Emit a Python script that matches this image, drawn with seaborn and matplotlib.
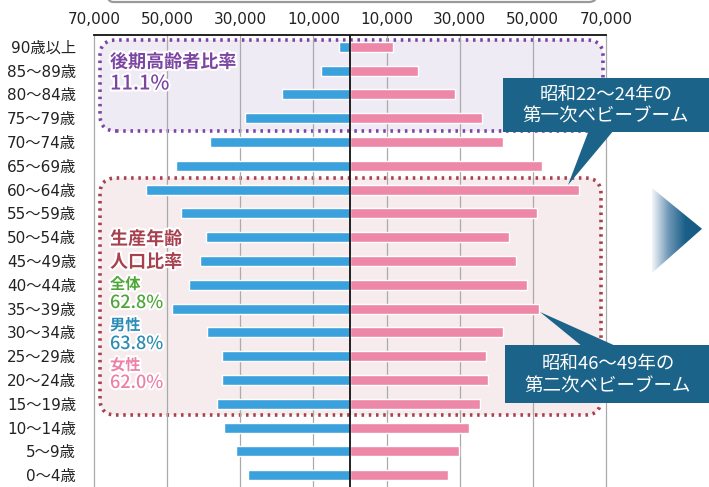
import numpy as np
import pandas as pd
import matplotlib
matplotlib.use('Agg')
import matplotlib.pyplot as plt
import matplotlib.patheffects as pe
from matplotlib.patches import FancyBboxPatch, Polygon, Rectangle
from matplotlib.transforms import IdentityTransform
from matplotlib.colors import LinearSegmentedColormap
import seaborn as sns

# age groups, top to bottom
ages = ['90歳以上', '85〜89歳', '80〜84歳', '75〜79歳', '70〜74歳', '65〜69歳',
        '60〜64歳', '55〜59歳', '50〜54歳', '45〜49歳', '40〜44歳', '35〜39歳',
        '30〜34歳', '25〜29歳', '20〜24歳', '15〜19歳', '10〜14歳', '5〜9歳', '0〜4歳']
male = [3000, 8000, 18500, 28800, 38200, 47700, 55900, 46200, 39300, 41100,
        44000, 48800, 39100, 34900, 35100, 36500, 34500, 31100, 27800]
female = [11800, 18500, 28700, 36100, 41800, 52400, 62700, 51000, 43400, 45400,
          48500, 51600, 41800, 37200, 37700, 35600, 32500, 29800, 26800]
tick_vals = [-70000, -50000, -30000, -10000, 10000, 30000, 50000, 70000]
grid_vals = [-50000, -30000, -10000, 10000, 30000, 50000]

df = pd.concat([
    pd.DataFrame({'年齢': ages, '性別': '男性', '人口': [-v for v in male]}),
    pd.DataFrame({'年齢': ages, '性別': '女性', '人口': female}),
])

sns.set_style('white')
plt.rcParams['font.family'] = ['Noto Sans CJK JP', 'DejaVu Sans']
tick_font = ['DejaVu Sans', 'Noto Sans CJK JP']

W, H = 709, 487
fig = plt.figure(figsize=(W / 100, H / 100), dpi=100)
ax = fig.add_axes([94 / W, 0, 512 / W, 452 / H])

sns.barplot(data=df, x='人口', y='年齢', hue='性別', order=ages, orient='h',
            palette={'男性': '#3ba1dc', '女性': '#ee88a8'}, dodge=False,
            width=0.42, errorbar=None, legend=False, saturation=1, ax=ax, zorder=2)

ax.set_xlim(-70000, 70000)
ax.set_ylim(len(ages) - 0.5, -0.5)
ax.set_xlabel('')
ax.set_ylabel('')
ax.xaxis.tick_top()
ax.set_xticks(tick_vals)
ax.set_xticklabels([f'{abs(v):,}' for v in tick_vals])
ax.tick_params(axis='x', length=0, pad=6, colors='#222222')
ax.tick_params(axis='y', length=0, pad=13, colors='#222222')
for lab in ax.get_xticklabels():
    lab.set_family(tick_font)
    lab.set_fontsize(11)
for lab in ax.get_yticklabels():
    lab.set_family(tick_font)
    lab.set_fontsize(11)
for v in grid_vals:
    ax.axvline(v, color='#aaaaaa', lw=0.9, zorder=1)
ax.axvline(0, color='#111111', lw=1.3, zorder=3)
ax.spines['bottom'].set_visible(False)
ax.spines['top'].set_color('#111111')
ax.spines['top'].set_linewidth(1.3)
for s in ['left', 'right']:
    ax.spines[s].set_color('#aaaaaa')
    ax.spines[s].set_linewidth(0.9)


def px(x, y):
    return (x, H - y)


ident = IdentityTransform()

# frame edge at the top
ax.add_patch(FancyBboxPatch(px(105, 2), 492, 30, boxstyle='round,pad=0,rounding_size=8',
                            fc='none', ec='#9a9a9a', lw=1.6, transform=ident, clip_on=False))

# highlighted groups
ax.add_patch(FancyBboxPatch(px(100, 131), 503, 91, boxstyle='round,pad=0,rounding_size=16',
                            fc='#eeebf5', ec='#7d44a6', lw=2.6, ls=(0, (0.7, 1.3)),
                            transform=ident, clip_on=False, zorder=0.5))
ax.add_patch(FancyBboxPatch(px(100, 415), 501, 237, boxstyle='round,pad=0,rounding_size=16',
                            fc='#f6eced', ec='#a8414f', lw=2.6, ls=(0, (0.7, 1.3)),
                            transform=ident, clip_on=False, zorder=0.5))

halo = [pe.withStroke(linewidth=3, foreground='white')]
labels = [
    ('後期高齢者比率', 110, 62, '#7b45a2', 13, 'bold'),
    ('11.1%', 110, 84, '#7b45a2', 14.5, 'medium'),
    ('生産年齢', 110, 239, '#a8414f', 13, 'bold'),
    ('人口比率', 110, 262, '#a8414f', 13, 'bold'),
    ('全体', 110, 284, '#4da738', 11, 'bold'),
    ('62.8%', 110, 303, '#4da738', 13, 'medium'),
    ('男性', 110, 325, '#2b8cb5', 11, 'bold'),
    ('63.8%', 110, 344, '#2b8cb5', 13, 'medium'),
    ('女性', 110, 365, '#ec80a7', 11, 'bold'),
    ('62.0%', 110, 383, '#ec80a7', 13, 'medium'),
]
for txt, x, y, c, fs, fw in labels:
    fig.text(*px(x, y), txt, transform=ident, color=c, fontsize=fs, fontweight=fw,
             ha='left', va='center', path_effects=halo, zorder=5)

# callouts
callout = '#1b6388'
ax.add_patch(Rectangle(px(503, 132), 206, 54, fc=callout, ec='none',
                       transform=ident, clip_on=False, zorder=4))
ax.add_patch(Polygon([px(589, 130), px(614, 130), px(568, 185)], closed=True, fc=callout,
                     ec='none', transform=ident, clip_on=False, zorder=4))
fig.text(*px(606, 95), '昭和22〜24年の', transform=ident, color='white', fontsize=13.3,
         ha='center', va='center', zorder=6)
fig.text(*px(606, 117), '第一次ベビーブーム', transform=ident, color='white', fontsize=13.3,
         ha='center', va='center', zorder=6)

ax.add_patch(Rectangle(px(505, 403), 204, 58, fc=callout, ec='none',
                       transform=ident, clip_on=False, zorder=4))
ax.add_patch(Polygon([px(583, 347), px(618, 347), px(540, 312)], closed=True, fc=callout,
                     ec='none', transform=ident, clip_on=False, zorder=4))
fig.text(*px(608, 364), '昭和46〜49年の', transform=ident, color='white', fontsize=13.3,
         ha='center', va='center', zorder=6)
fig.text(*px(608, 387), '第二次ベビーブーム', transform=ident, color='white', fontsize=13.3,
         ha='center', va='center', zorder=6)

# gradient arrow on the right
tri_ax = fig.add_axes([652 / W, (H - 273) / H, 50 / W, 85 / H])
tri_ax.axis('off')
cmap = LinearSegmentedColormap.from_list('arrow', ['#f4f7fa', '#6f97b6', '#1a5f88', '#175a82'])
img = tri_ax.imshow(np.linspace(0, 1, 256)[None, :], cmap=cmap, aspect='auto',
                    extent=(0, 1, 0, 1))
tri = Polygon([(0, 0), (0, 1), (1, 0.52)], closed=True, transform=tri_ax.transAxes)
img.set_clip_path(tri)
tri_ax.set_xlim(0, 1)
tri_ax.set_ylim(0, 1)

fig.savefig('out.png', dpi=100)
